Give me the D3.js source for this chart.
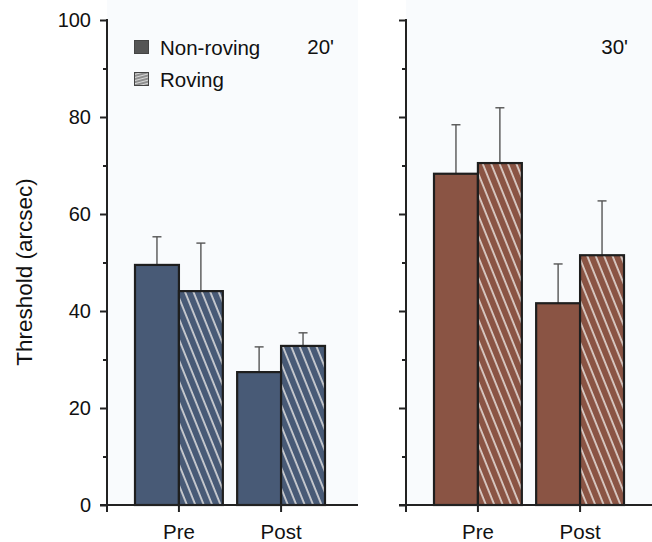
<!DOCTYPE html>
<html>
<head>
<meta charset="utf-8">
<script src="https://cdn.jsdelivr.net/npm/d3@7"></script>
<style>
  body { margin: 0; background: #fff; }
  text { font-family: "Liberation Sans", Arial, sans-serif; fill: #111; }
</style>
</head>
<body>
<svg id="chart" width="652" height="542"></svg>
<script>
// data
const categories = ["Pre", "Post"];
const series = ["Non-roving", "Roving"];
const panelLabels = ["20'", "30'"];
const yTicks = [0, 10, 20, 30, 40, 50, 60, 70, 80, 90, 100];

const mean20NonRoving = [49.5, 27.4];
const mean20Roving = [44.1, 32.8];
const err20NonRoving = [5.8, 5.2];
const err20Roving = [9.9, 2.7];

const mean30NonRoving = [68.3, 41.6];
const mean30Roving = [70.5, 51.5];
const err30NonRoving = [10.1, 8.1];
const err30Roving = [11.4, 11.2];

const panels = [
  { label: panelLabels[0], color: "#485a76", x: 107, w: 251,
    means: [mean20NonRoving, mean20Roving], errs: [err20NonRoving, err20Roving] },
  { label: panelLabels[1], color: "#8a5444", x: 406, w: 246,
    means: [mean30NonRoving, mean30Roving], errs: [err30NonRoving, err30Roving] }
];

const svg = d3.select("#chart");
const plotTop = 20, plotBottom = 505;

const y = d3.scaleLinear().domain([0, 100]).range([plotBottom, plotTop]);
const x = d3.scaleBand().domain(categories).range([28, 218]).paddingInner(0.14).paddingOuter(0);
const xs = d3.scaleBand().domain(series).range([0, x.bandwidth()]);

const defs = svg.append("defs");

// hatch patterns (white diagonal stripes over bar colour)
panels.forEach((p, i) => {
  const pat = defs.append("pattern")
    .attr("id", "hatch" + i)
    .attr("patternUnits", "userSpaceOnUse")
    .attr("width", 7.8).attr("height", 10)
    .attr("patternTransform", "rotate(-22)");
  pat.append("rect").attr("width", 7.8).attr("height", 10).attr("fill", p.color);
  pat.append("line").attr("x1", 2).attr("x2", 2).attr("y1", 0).attr("y2", 10)
    .attr("stroke", "#f4f1ee").attr("stroke-width", 1.4);
});
// legend hatch (grey)
const lp = defs.append("pattern")
  .attr("id", "hatchLegend")
  .attr("patternUnits", "userSpaceOnUse")
  .attr("width", 10).attr("height", 3)
  .attr("patternTransform", "rotate(-15)");
lp.append("rect").attr("width", 10).attr("height", 3).attr("fill", "#d8d8d8");
lp.append("line").attr("x1", 0).attr("x2", 10).attr("y1", 1).attr("y2", 1)
  .attr("stroke", "#666").attr("stroke-width", 1.3);

panels.forEach((p, pi) => {
  const g = svg.append("g").attr("transform", `translate(${p.x},0)`);

  // faint panel background
  g.append("rect").attr("x", 0).attr("y", 0).attr("width", p.w).attr("height", plotBottom)
    .attr("fill", "#f9fbfd");

  // bars
  const rows = [];
  categories.forEach((c, ci) => {
    series.forEach((s, si) => {
      rows.push({ cat: c, ser: s, si: si, v: p.means[si][ci], e: p.errs[si][ci] });
    });
  });

  // error bars (drawn first, bar sits over the stem base)
  const eb = g.selectAll(".err").data(rows).enter().append("g").attr("class", "err");
  eb.append("line")
    .attr("x1", d => x(d.cat) + xs(d.ser) + xs.bandwidth() / 2)
    .attr("x2", d => x(d.cat) + xs(d.ser) + xs.bandwidth() / 2)
    .attr("y1", d => y(d.v)).attr("y2", d => y(d.v + d.e))
    .attr("stroke", "#555").attr("stroke-width", 1.4);
  eb.append("line")
    .attr("x1", d => x(d.cat) + xs(d.ser) + xs.bandwidth() / 2 - 4.5)
    .attr("x2", d => x(d.cat) + xs(d.ser) + xs.bandwidth() / 2 + 4.5)
    .attr("y1", d => y(d.v + d.e)).attr("y2", d => y(d.v + d.e))
    .attr("stroke", "#555").attr("stroke-width", 1.4);

  g.selectAll(".bar").data(rows).enter().append("rect")
    .attr("class", "bar")
    .attr("x", d => x(d.cat) + xs(d.ser))
    .attr("y", d => y(d.v))
    .attr("width", xs.bandwidth())
    .attr("height", d => y(0) - y(d.v))
    .attr("fill", d => d.si === 0 ? p.color : `url(#hatch${pi})`)
    .attr("stroke", "#1e1e1e").attr("stroke-width", 2.2);

  // y axis
  const ya = g.append("g").call(
    d3.axisLeft(y).tickValues(yTicks).tickSize(7).tickPadding(9)
      .tickFormat(d => (pi === 0 && d % 20 === 0) ? d : "")
  );
  ya.select(".domain").remove();
  ya.selectAll(".tick line").attr("stroke", "#222").attr("stroke-width", 2)
    .attr("x2", d => d % 20 === 0 ? -7 : -4);
  ya.selectAll(".tick text").style("font-size", "20px").attr("fill", "#111");
  g.append("line").attr("x1", 0).attr("x2", 0).attr("y1", plotTop - 1).attr("y2", plotBottom + 7)
    .attr("stroke", "#222").attr("stroke-width", 2);

  // x axis
  const xa = g.append("g").attr("transform", `translate(0,${plotBottom})`).call(
    d3.axisBottom(x).tickSize(7).tickPadding(12)
  );
  xa.select(".domain").remove();
  xa.selectAll(".tick line").attr("stroke", "#222").attr("stroke-width", 2);
  xa.selectAll(".tick text").style("font-size", "20.5px").attr("fill", "#111");
  g.append("line").attr("x1", -7).attr("x2", p.w).attr("y1", plotBottom).attr("y2", plotBottom)
    .attr("stroke", "#222").attr("stroke-width", 2);

  // panel label
  g.append("text").attr("x", p.w - 24).attr("y", 54).attr("text-anchor", "end")
    .style("font-size", "20.5px").text(p.label);
});

// legend
const legend = svg.append("g").attr("transform", "translate(134,40)");
series.forEach((s, i) => {
  const lg = legend.append("g").attr("transform", `translate(0,${i * 32})`);
  lg.append("rect").attr("x", 0.5).attr("y", 0.5).attr("width", 14).attr("height", 13)
    .attr("fill", i === 0 ? "#555" : "url(#hatchLegend)")
    .attr("stroke", "#444").attr("stroke-width", 1);
  lg.append("text").attr("x", 26).attr("y", 14.5).style("font-size", "20.5px").text(s);
});

// y axis title
svg.append("text")
  .attr("transform", "translate(32,272) rotate(-90)")
  .attr("text-anchor", "middle")
  .style("font-size", "22.5px")
  .text("Threshold (arcsec)");
</script>
</body>
</html>
